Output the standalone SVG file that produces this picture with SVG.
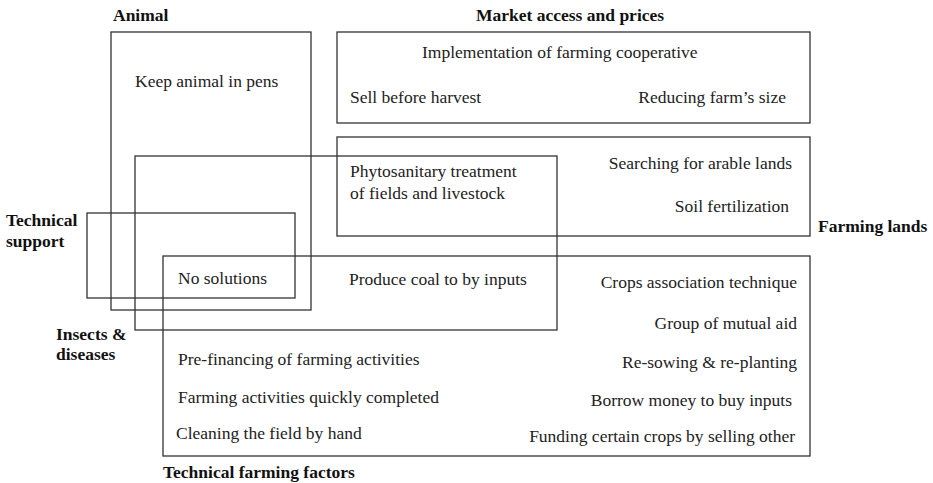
<svg xmlns="http://www.w3.org/2000/svg" width="933" height="483" viewBox="0 0 933 483">
  <style>
    .box { fill: none; stroke: #333; stroke-width: 1.3; }
    .t { font-family: "Liberation Serif", "Times New Roman", serif; font-size: 17.5px; fill: #222; }
    .h { font-family: "Liberation Serif", "Times New Roman", serif; font-size: 17.5px; font-weight: bold; fill: #111; }
    .r { text-anchor: end; }
  </style>
  <rect x="0" y="0" width="933" height="483" fill="#fff"/>

  <!-- Animal -->
  <g id="animal">
    <rect class="box" x="111" y="32" width="200" height="278"/>
    <text class="h" x="113" y="21">Animal</text>
    <text class="t" x="135" y="87">Keep animal in pens</text>
  </g>

  <!-- Market access and prices -->
  <g id="market">
    <rect class="box" x="337" y="32" width="473" height="91"/>
    <text class="h" x="476" y="21">Market access and prices</text>
    <text class="t" x="422" y="58">Implementation of farming cooperative</text>
    <text class="t" x="350" y="103">Sell before harvest</text>
    <text class="t r" x="786" y="103">Reducing farm’s size</text>
  </g>

  <!-- Farming lands -->
  <g id="farming-lands">
    <rect class="box" x="337" y="137" width="473" height="99"/>
    <text class="h" x="818" y="232">Farming lands</text>
    <text class="t r" x="792" y="169">Searching for arable lands</text>
    <text class="t r" x="789" y="212">Soil fertilization</text>
  </g>

  <!-- Insects & diseases -->
  <g id="insects">
    <rect class="box" x="135" y="156" width="422" height="174"/>
    <text class="h" x="56" y="340">Insects &amp;</text>
    <text class="h" x="56" y="360">diseases</text>
    <text class="t" x="350" y="177">Phytosanitary treatment</text>
    <text class="t" x="350" y="199">of fields and livestock</text>
  </g>

  <!-- Technical support -->
  <g id="technical-support">
    <rect class="box" x="87" y="213" width="208" height="85"/>
    <text class="h" x="6" y="226">Technical</text>
    <text class="h" x="6" y="247">support</text>
    <text class="t" x="178" y="284">No solutions</text>
  </g>

  <!-- Technical farming factors -->
  <g id="technical-farming">
    <rect class="box" x="163" y="256" width="647" height="200"/>
    <text class="h" x="163" y="478">Technical farming factors</text>
    <text class="t" x="349" y="285">Produce coal to by inputs</text>
    <text class="t r" x="797" y="288">Crops association technique</text>
    <text class="t r" x="797" y="329">Group of mutual aid</text>
    <text class="t r" x="797" y="368">Re-sowing &amp; re-planting</text>
    <text class="t r" x="792" y="406">Borrow money to buy inputs</text>
    <text class="t r" x="795" y="442">Funding certain crops by selling other</text>
    <text class="t" x="178" y="365">Pre-financing of farming activities</text>
    <text class="t" x="178" y="403">Farming activities quickly completed</text>
    <text class="t" x="176" y="439">Cleaning the field by hand</text>
  </g>
</svg>
